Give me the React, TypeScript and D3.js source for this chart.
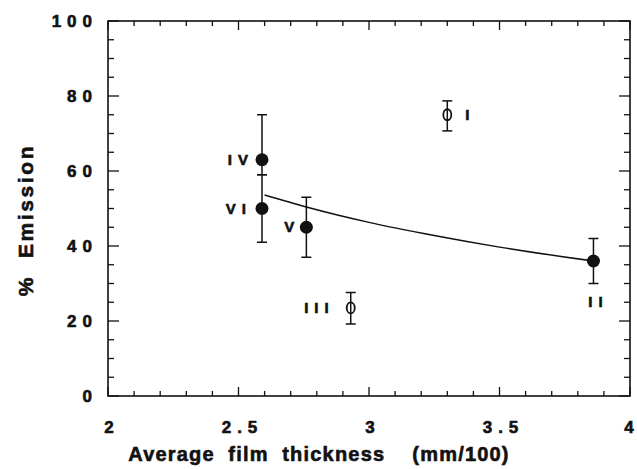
import { useEffect, useRef } from 'react'
import * as d3 from 'd3'

// sample data
const labels = ['I', 'II', 'III', 'IV', 'V', 'VI']
const thickness = [3.3, 3.86, 2.93, 2.59, 2.76, 2.59]
const emission = [75, 36, 23.5, 63, 45, 50]
const errLow = [70.7, 30, 19.2, 59, 37, 41]
const errHigh = [78.7, 42, 27.6, 75, 53, 59]
const filled = [false, true, false, true, true, true]

// fitted curve, read at a few points
const fitX = [2.6, 2.76, 3.0, 3.25, 3.5, 3.86]
const fitY = [53.6, 50.4, 46.3, 42.8, 39.7, 36]

const xTicks = [2, 2.5, 3, 3.5, 4]
const yTicks = [0, 20, 40, 60, 80, 100]

export default function App() {
  const ref = useRef<SVGSVGElement>(null)

  useEffect(() => {
    const W = 637
    const H = 469
    const margin = { top: 21, right: 7, bottom: 73, left: 108 }
    const w = W - margin.left - margin.right
    const h = H - margin.top - margin.bottom
    const font = '"Liberation Sans", Arial, sans-serif'
    const ink = '#111'

    const root = d3.select(ref.current)
    root.selectAll('*').remove()
    const g = root.append('g').attr('transform', `translate(${margin.left},${margin.top})`)

    const x = d3.scaleLinear().domain([2, 4]).range([0, w])
    const y = d3.scaleLinear().domain([0, 100]).range([h, 0])

    // frame
    g.append('rect')
      .attr('width', w).attr('height', h)
      .attr('fill', 'none').attr('stroke', ink).attr('stroke-width', 1.6)

    // inward ticks on all four sides
    const xMinor = d3.range(20, 41).map(d => d / 10)
    const yMinor = d3.range(0, 101, 5)
    const isMajorX = (v: number) => Math.abs(v * 2 - Math.round(v * 2)) < 1e-6
    const ticks = g.append('g').attr('stroke', ink).attr('stroke-width', 1.3)
    xMinor.forEach(v => {
      const len = isMajorX(v) ? 9 : 5
      ticks.append('line').attr('x1', x(v)).attr('x2', x(v)).attr('y1', h).attr('y2', h - len)
      ticks.append('line').attr('x1', x(v)).attr('x2', x(v)).attr('y1', 0).attr('y2', len)
    })
    yMinor.forEach(v => {
      const len = v % 20 === 0 ? 11 : 6
      ticks.append('line').attr('x1', 0).attr('x2', len).attr('y1', y(v)).attr('y2', y(v))
      ticks.append('line').attr('x1', w).attr('x2', w - len).attr('y1', y(v)).attr('y2', y(v))
    })

    const heavy = (sel: d3.Selection<SVGTextElement, any, any, any>, size: number, ls: number) =>
      sel.attr('font-family', font).attr('font-weight', 700).attr('font-size', size)
        .attr('letter-spacing', ls)
        .attr('fill', ink).attr('stroke', ink).attr('stroke-width', 0.6)

    // tick labels (single glyphs get no spacing so they stay centred)
    const tls = 6
    heavy(g.selectAll('.xt').data(xTicks).enter().append('text')
      .attr('x', d => String(d).length > 1 ? x(d) + tls / 2 + 1 : x(d) + (d === 4 ? -1 : 1))
      .attr('y', h + 37)
      .attr('text-anchor', 'middle')
      .text(d => String(d)), 17, tls)
      .attr('letter-spacing', d => String(d).length > 1 ? tls : 0)

    heavy(g.selectAll('.yt').data(yTicks).enter().append('text')
      .attr('x', -16 + tls)
      .attr('y', d => y(d) + 6)
      .attr('text-anchor', 'end')
      .text(d => String(d)), 17, tls)

    // axis titles
    heavy(g.append('text')
      .attr('x', 319 - margin.left)
      .attr('y', h + 65)
      .attr('text-anchor', 'middle')
      .attr('xml:space', 'preserve')
      .text('Average  film  thickness    (mm/100)'), 20, 1.2)

    heavy(g.append('text')
      .attr('transform', `translate(${-75},${199}) rotate(-90)`)
      .attr('text-anchor', 'middle')
      .attr('xml:space', 'preserve')
      .text('%  Emission'), 21, 2.6)

    // fitted curve
    const line = d3.line<number>()
      .x((_, i) => x(fitX[i]))
      .y(d => y(d))
      .curve(d3.curveMonotoneX)
    g.append('path')
      .datum(fitY)
      .attr('d', line)
      .attr('fill', 'none').attr('stroke', ink).attr('stroke-width', 1.5)

    // error bars
    const idx = d3.range(labels.length)
    const eb = g.append('g').attr('stroke', ink).attr('stroke-width', 1.5)
    idx.forEach(i => {
      const cx = x(thickness[i])
      const cap = 5
      eb.append('line').attr('x1', cx).attr('x2', cx).attr('y1', y(errLow[i])).attr('y2', y(errHigh[i]))
      eb.append('line').attr('x1', cx - cap).attr('x2', cx + cap).attr('y1', y(errLow[i])).attr('y2', y(errLow[i]))
      eb.append('line').attr('x1', cx - cap).attr('x2', cx + cap).attr('y1', y(errHigh[i])).attr('y2', y(errHigh[i]))
    })

    // points
    idx.forEach(i => {
      const cx = x(thickness[i])
      const cy = y(emission[i])
      if (filled[i]) {
        g.append('circle').attr('cx', cx).attr('cy', cy).attr('r', 6.5).attr('fill', ink)
      } else {
        g.append('ellipse').attr('cx', cx).attr('cy', cy).attr('rx', 4).attr('ry', 5.5)
          .attr('fill', 'white').attr('stroke', ink).attr('stroke-width', 1.8)
        g.append('line').attr('x1', cx).attr('x2', cx).attr('y1', cy - 6).attr('y2', cy + 6)
          .attr('stroke', ink).attr('stroke-width', 1.5)
      }
    })

    // point labels
    const offsets: Record<string, [number, number, string]> = {
      I: [18, 0, 'start'],
      II: [5, 41, 'middle'],
      III: [-16, 0, 'end'],
      IV: [-8, 0, 'end'],
      V: [-6, 0, 'end'],
      VI: [-10, 0, 'end'],
    }
    idx.forEach(i => {
      const [dx, dy, anchor] = offsets[labels[i]]
      heavy(g.append('text')
        .attr('x', x(thickness[i]) + dx)
        .attr('y', y(emission[i]) + dy + 5)
        .attr('text-anchor', anchor)
        .text(labels[i]), 15, 6)
    })
  }, [])

  return (
    <svg
      ref={ref}
      width={637}
      height={469}
      style={{ position: 'absolute', left: 0, top: 0, background: 'white' }}
    />
  )
}
